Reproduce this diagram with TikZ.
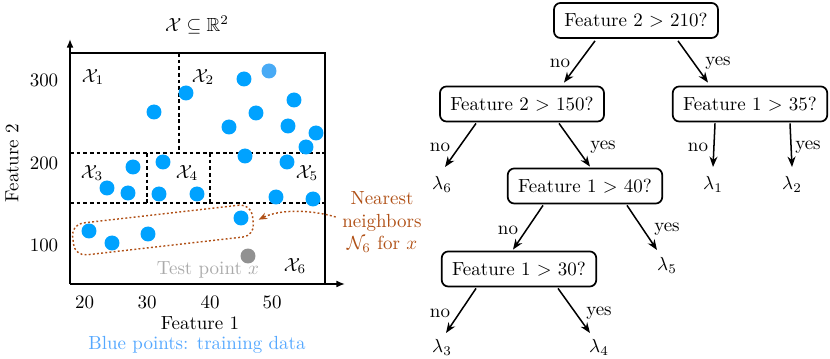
\documentclass[tikz,border=0pt]{standalone}
\usepackage{amssymb}
\usetikzlibrary{arrows.meta,calc}
\definecolor{ptblue}{RGB}{0,162,255}
\definecolor{ptlight}{RGB}{72,170,245}
\definecolor{lblblue}{RGB}{85,168,255}
\definecolor{nnorange}{RGB}{176,80,22}
\definecolor{testgrey}{RGB}{145,145,145}
\definecolor{testtext}{RGB}{170,170,170}
\begin{document}
\begin{tikzpicture}[x=0.527pt,y=-0.527pt,
  framel/.style={line width=0.8pt},
  split/.style={line width=0.8pt,dash pattern=on 2pt off 1.5pt},
  axarr/.style={line width=0.8pt,-{Latex[length=4.5pt,width=3.6pt]}},
  dec/.style={draw,rounded corners=3.5pt,line width=0.9pt,inner xsep=5.5pt,minimum height=18.5pt},
  leaf/.style={inner sep=1pt},
  lbl/.style={inner sep=1pt},
  tarr/.style={line width=0.8pt,-{Stealth[length=5.5pt,width=4.2pt]}},
  nnarr/.style={nnorange,line width=0.75pt,dash pattern=on 1pt off 1.2pt,-{Stealth[length=4.5pt,width=3.5pt]}},
]
\useasboundingbox (0,0) rectangle (830,359);

% ---------- plot ----------
\coordinate (O) at (70,284);
\coordinate (ytip) at (70,39);
\coordinate (xtip) at (345,284);
\coordinate (TL) at (70,53);
\coordinate (TR) at (325,53);
\coordinate (BR) at (325,284);
\draw[axarr] (O) -- (ytip);
\draw[axarr] (O) -- (xtip);
\draw[framel] (TL) -- (TR) -- (BR);

% splits
\coordinate (h1l) at (70,153); \coordinate (h1r) at (325,153);
\coordinate (h2l) at (70,203); \coordinate (h2r) at (325,203);
\coordinate (v1t) at (179,53); \coordinate (v1b) at (179,153);
\coordinate (v2t) at (147,153); \coordinate (v2b) at (147,203);
\coordinate (v3t) at (210,153); \coordinate (v3b) at (210,203);
\draw[split] (h1l) -- (h1r);
\draw[split] (h2l) -- (h2r);
\draw[split] (v1t) -- (v1b);
\draw[split] (v2t) -- (v2b);
\draw[split] (v3t) -- (v3b);

% training points
\foreach \px/\py in {154/112,186/93,244/79,294/100,256/113,229/127,288/126,316/133,306/147,245/156,287/162,
  133/167,163/162,107/188,128/193,159/194,197/194,276/197,313/199,241/218,89/231,112/243,148/234}
  \fill[ptblue] (\px,\py) circle[radius=3.95pt];
\fill[ptlight] (269,71) circle[radius=3.95pt];
\fill[testgrey] (248,256) circle[radius=3.95pt];

% region labels
\node (r1) at (93,77) {$\mathcal{X}_1$};
\node (r2) at (203,77) {$\mathcal{X}_2$};
\node (r3) at (92,173) {$\mathcal{X}_3$};
\node (r4) at (187,173) {$\mathcal{X}_4$};
\node (r5) at (307,173) {$\mathcal{X}_5$};
\node (r6) at (295,266) {$\mathcal{X}_6$};
\node[text=testtext] (tp) at (208,270) {Test point $x$};

% title and axes labels
\node (title) at (197,25) {$\mathcal{X}\subseteq\mathbb{R}^2$};
\node (y300) at (44,80) {300};
\node (y200) at (44,163) {200};
\node (y100) at (44,245) {100};
\node (x20) at (84.5,302) {20};
\node (x30) at (147,302) {30};
\node (x40) at (210,302) {40};
\node (x50) at (272,302) {50};
\node (f1) at (200,323) {Feature 1};
\node[rotate=90] (f2) at (12,163) {Feature 2};
\node[text=lblblue] (bp) at (197,345) {Blue points: training data};

% nearest neighbours
\node[draw=nnorange,line width=0.75pt,dash pattern=on 1pt off 1.2pt,rounded corners=6.3pt,
  rotate=6.5,minimum width=95.4pt,minimum height=16.9pt,inner sep=0pt] (enc) at (163,230) {};
\node[text=nnorange,align=center] (nn) at (382,222) {Nearest\\neighbors\\$\mathcal{N}_6$ for $x$};
\draw[nnarr] ($(nn.west)+(0,-5)$) .. controls ($(nn.west)+(-27,-13)$) and ($(enc.east)+(25,-10)$) .. ($(enc.east)+(5,0)$);

% ---------- tree ----------
\node[dec] (root) at (636,20.5) {Feature 2 $>$ 210?};
\node[dec] (n2) at (522,104) {Feature 2 $>$ 150?};
\node[dec] (n3) at (750,104) {Feature 1 $>$ 35?};
\node[dec] (n4) at (585,186) {Feature 1 $>$ 40?};
\node[dec] (n5) at (519,269) {Feature 1 $>$ 30?};
\node[leaf] (l6) at (442,184) {$\lambda_6$};
\node[leaf] (l1) at (713,184) {$\lambda_1$};
\node[leaf] (l2) at (792,184) {$\lambda_2$};
\node[leaf] (l5) at (667,265) {$\lambda_5$};
\node[leaf] (l3) at (442,347) {$\lambda_3$};
\node[leaf] (l4) at (599,347) {$\lambda_4$};

\draw[tarr] ($(root.south)+(-41,2)$) -- ($(n2.north)+(42,-3)$);
\draw[tarr] ($(root.south)+(42,2)$) -- ($(n3.north)+(-42,-3)$);
\draw[tarr] ($(n2.south)+(-46,1)$) -- ($(l6)+(3,-17)$);
\draw[tarr] ($(n2.south)+(37,1)$) -- ($(n4.north)+(5,-1)$);
\draw[tarr] ($(n3.south)+(-35,1)$) -- ($(l1)+(0,-17)$);
\draw[tarr] ($(n3.south)+(40,1)$) -- ($(l2)+(0,-17)$);
\draw[tarr] ($(n4.south)+(-42,1)$) -- ($(n5.north)+(-6,-1)$);
\draw[tarr] ($(n4.south)+(42,1)$) -- ($(l5)+(-10,-15)$);
\draw[tarr] ($(n5.south)+(-43,1)$) -- ($(l3)+(4,-14)$);
\draw[tarr] ($(n5.south)+(39,1)$) -- ($(l4)+(-9,-14)$);

\node[lbl] (e1) at (560,63) {no};
\node[lbl] (e2) at (718,63) {yes};
\node[lbl] (e3) at (440,147) {no};
\node[lbl] (e4) at (603,147) {yes};
\node[lbl] (e5) at (698,147) {no};
\node[lbl] (e6) at (808,147) {yes};
\node[lbl] (e7) at (508,230) {no};
\node[lbl] (e8) at (667,229) {yes};
\node[lbl] (e9) at (440,313) {no};
\node[lbl] (e10) at (599,313) {yes};
\end{tikzpicture}
\end{document}
